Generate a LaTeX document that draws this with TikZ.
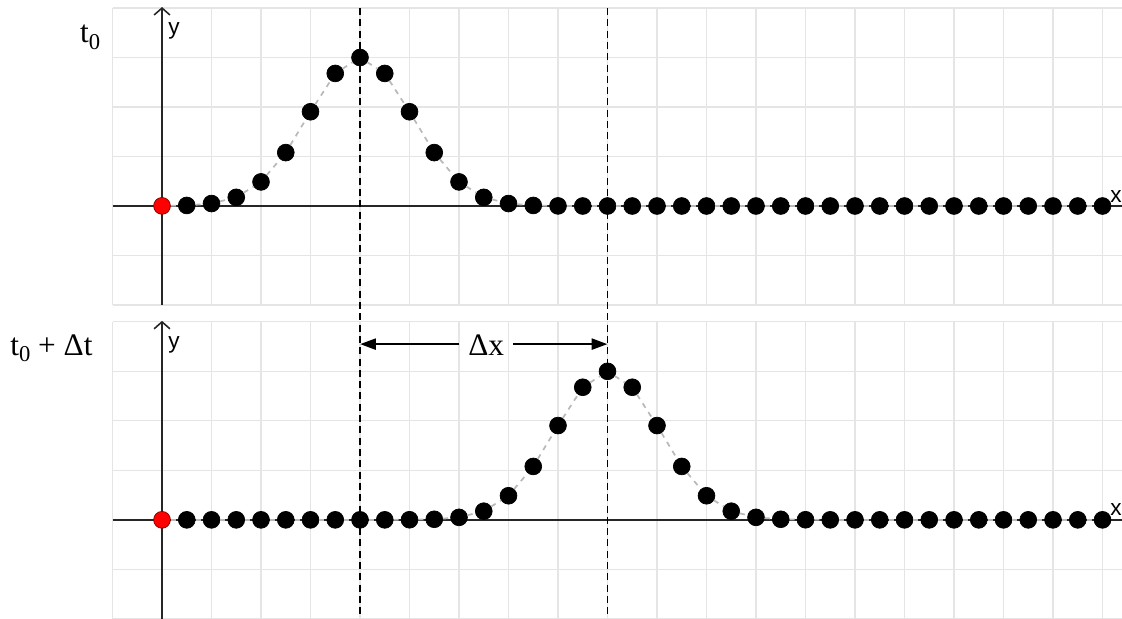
\documentclass[tikz,border=0pt]{standalone}
\usepackage{fontspec}
\setmainfont{Liberation Serif}
\setsansfont{Liberation Sans}
\usetikzlibrary{arrows.meta}

\newcommand{\lowsub}[1]{\raisebox{-4pt}{\fontsize{13}{15}\selectfont #1}}

\begin{document}
\begin{tikzpicture}[
    font=\rmfamily,
    gridline/.style={gray!20, line width=0.6pt},
    axisline/.style={black!85, line width=0.9pt},
    bead/.style={circle, fill=black, draw=black, minimum size=3.4mm, inner sep=0pt},
    origin/.style={bead, fill=red, draw=red!50!black},
    pulse/.style={gray!55, dashed, line width=1pt},
    marker/.style={black, line width=1pt, dash pattern=on 4pt off 2.5pt},
    span/.style={black, line width=1.5pt, -{Triangle[length=3.2mm, width=2.2mm]}},
    axislabel/.style={font=\sffamily\fontsize{13}{15}\selectfont, inner sep=0pt},
    timelabel/.style={font=\fontsize{18}{20}\selectfont, inner sep=0pt}
]

\useasboundingbox (-3.273,-8.343) rectangle (19.394,4.162);

% Grids (top panel and bottom panel)
\foreach \off in {0,-6.34} {
    \foreach \gx in {-1,...,19}
        \draw[gridline] (\gx,\off-2) -- (\gx,\off+4);
    \foreach \gy in {-2,...,4}
        \draw[gridline] (-1,\off+\gy) -- (19.394,\off+\gy);
}

% Axes
\draw[axisline] (-1,0) -- (19.394,0);
\draw[axisline, -{Straight Barb[length=1.4mm, width=3.2mm]}] (0,-2) -- (0,4.02);
\draw[axisline] (-1,-6.34) -- (19.394,-6.34);
\draw[axisline, -{Straight Barb[length=1.4mm, width=3.2mm]}] (0,-8.343) -- (0,-2.32);

\node[axislabel, anchor=base west] (ya) at (0.12,3.47) {y};
\node[axislabel, anchor=base west] (yb) at (0.12,-2.87) {y};
\node[axislabel, anchor=base west] (xa) at (19.15,0.08) {x};
\node[axislabel, anchor=base west] (xb) at (19.15,-6.26) {x};

% Peak markers
\draw[marker] (4,4.0) -- (4,-8.26);
\draw[marker] (9,4.0) -- (9,-8.26);

% Beads: pulse at t0 (top) and at t0 + dt (bottom)
\foreach \i in {0,...,38} {
    \pgfmathsetmacro{\xx}{\i/2}
    \pgfmathsetmacro{\ya}{3*exp(-(\xx-4)^2/2.2)}
    \pgfmathsetmacro{\yb}{3*exp(-(\xx-9)^2/2.2)-6.34}
    \ifnum\i=0 \def\sty{origin}\else\def\sty{bead}\fi
    \node[\sty] (a\i) at (\xx,\ya) {};
    \node[\sty] (b\i) at (\xx,\yb) {};
}
\foreach \i [evaluate=\i as \j using int(\i+1)] in {0,...,37} {
    \draw[pulse] (a\i) -- (a\j);
    \draw[pulse] (b\i) -- (b\j);
}

% Time labels
\node[timelabel, anchor=base west] (ta) at (-1.66,3.31) {t\lowsub{0}};
\node[timelabel, anchor=base west] (tb) at (-3.07,-3.01) {t\lowsub{0} + Δt};

% Displacement
\coordinate (dxl) at (4,-2.79);
\coordinate (dxr) at (9,-2.79);
\node[timelabel, anchor=base, inner sep=5pt] (dx) at (6.55,-3.03) {Δx};
\draw[span] (dx.west |- dxl) -- (dxl);
\draw[span] (dx.east |- dxr) -- (dxr);

\end{tikzpicture}
\end{document}
